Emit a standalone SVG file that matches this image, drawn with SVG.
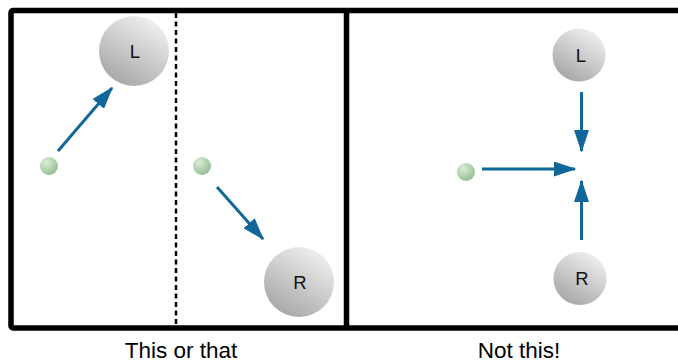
<svg xmlns="http://www.w3.org/2000/svg" width="678" height="363" viewBox="0 0 678 363">
<style>
.frame{fill:none;stroke:#000;stroke-width:5.5;stroke-linejoin:round}
.big{fill:url(#gGray)}
.dot{fill:url(#gGreen)}
.lbl{font-family:"Liberation Sans",Arial,sans-serif;font-size:18.5px;fill:#111;text-anchor:middle}
.cap{font-family:"Liberation Sans",Arial,sans-serif;font-size:22.5px;fill:#000;text-anchor:middle}
.arr{stroke:#0f6899;stroke-width:3;fill:none;marker-end:url(#ah)}
</style>
<defs>
<linearGradient id="gGray" x1="0.8" y1="0.05" x2="0.25" y2="0.95">
<stop offset="0" stop-color="#f0f0f0"/>
<stop offset="1" stop-color="#a8a8a8"/>
</linearGradient>
<radialGradient id="gGreen" cx="0.35" cy="0.3" r="0.8">
<stop offset="0" stop-color="#dcecd9"/>
<stop offset="1" stop-color="#8dba8b"/>
</radialGradient>
<marker id="ah" markerWidth="7.5" markerHeight="5" refX="7" refY="2.5" orient="auto" markerUnits="strokeWidth">
<path d="M0,0 L7.5,2.5 L0,5 Z" fill="#0f6899"/>
</marker>
</defs>
<g id="frame">
<rect class="frame" x="11" y="10.5" width="680" height="317.5" rx="2"/>
<line x1="346.5" y1="10" x2="346.5" y2="328" stroke="#000" stroke-width="5.5"/>
<line x1="176" y1="13" x2="176" y2="325" stroke="#000" stroke-width="2.5" stroke-dasharray="5,3.5"/>
</g>
<g id="L1"><circle class="big" cx="134" cy="51" r="35"/><text class="lbl" x="135" y="57.5">L</text></g>
<g id="R1"><circle class="big" cx="299" cy="282" r="35"/><text class="lbl" x="300" y="288.5">R</text></g>
<g id="dot1"><circle class="dot" cx="49" cy="166" r="9"/></g>
<g id="dot2"><circle class="dot" cx="202" cy="166" r="9"/></g>
<g id="L2"><circle class="big" cx="579" cy="55" r="26.5"/><text class="lbl" x="581" y="61.5">L</text></g>
<g id="R2"><circle class="big" cx="580" cy="278.5" r="26.5"/><text class="lbl" x="582" y="285">R</text></g>
<g id="dot3"><circle class="dot" cx="466" cy="172" r="9"/></g>
<g id="connectors">
<line class="arr" x1="58" y1="151" x2="112" y2="88"/>
<line class="arr" x1="217" y1="187" x2="263" y2="239"/>
<line class="arr" x1="482" y1="169" x2="575" y2="169"/>
<line class="arr" x1="581.5" y1="92" x2="581.5" y2="151"/>
<line class="arr" x1="581.5" y1="240" x2="581.5" y2="181"/>
</g>
<g id="captions">
<text class="cap" x="181" y="358">This or that</text>
<text class="cap" x="519" y="358">Not this!</text>
</g>
</svg>
